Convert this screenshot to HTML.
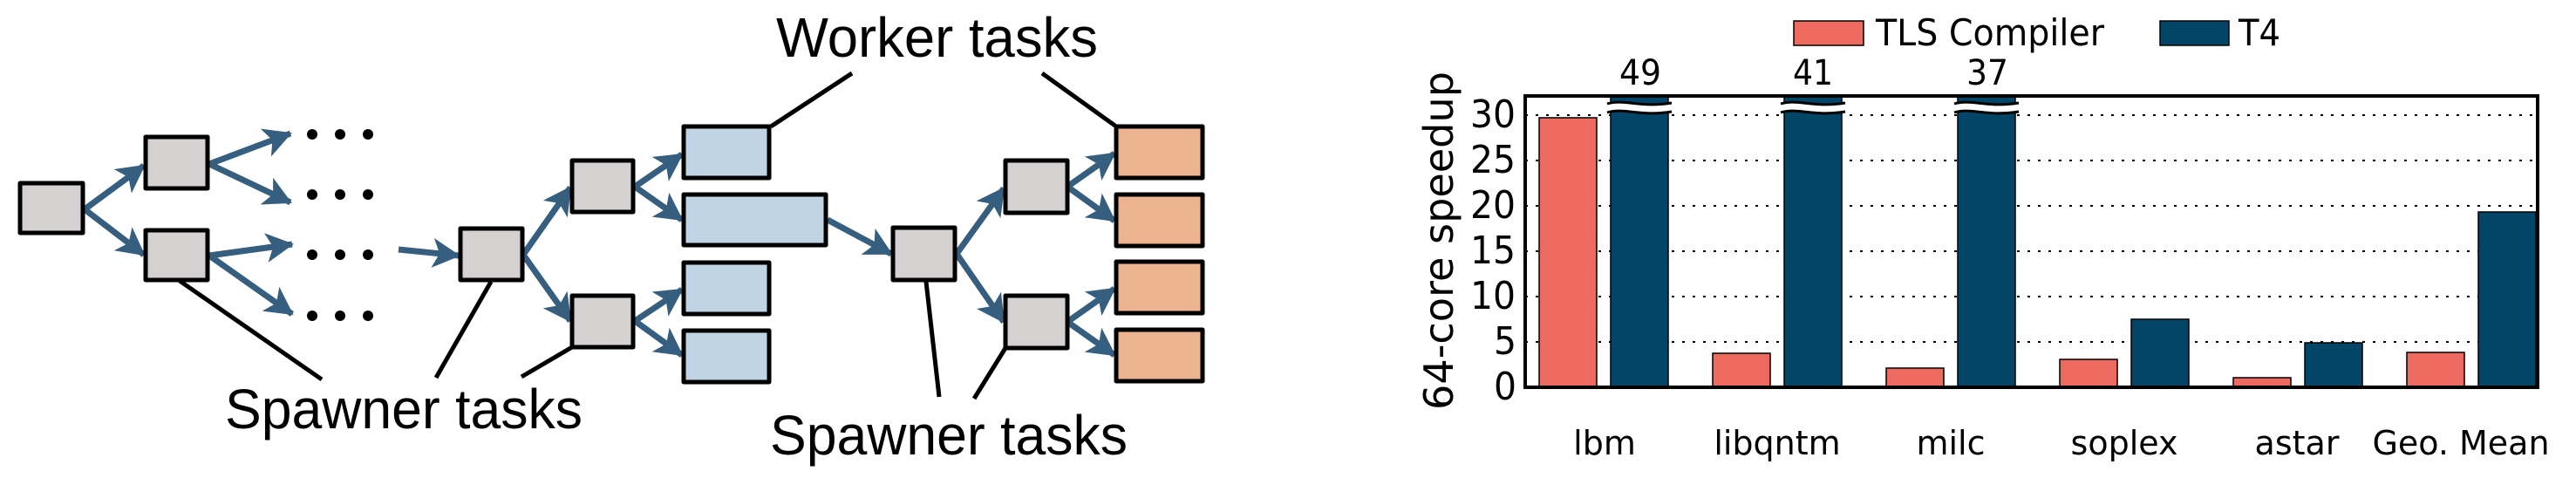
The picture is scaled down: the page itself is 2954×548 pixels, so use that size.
<!DOCTYPE html>
<html><head><meta charset="utf-8"><style>
html,body{margin:0;padding:0;background:#fff;width:2954px;height:548px;overflow:hidden}
svg{display:block}
</style></head><body>
<svg width="2954" height="548" viewBox="0 0 2954 548" xmlns="http://www.w3.org/2000/svg">
<defs>
<marker id="ah" markerUnits="userSpaceOnUse" markerWidth="34" markerHeight="36" refX="30" refY="17" orient="auto">
<path d="M0,0 L32,17 L0,34 L8,17 Z" fill="#365e7e"/>
</marker>
</defs>
<g stroke="#365e7e" stroke-width="7" fill="none" marker-end="url(#ah)">
<line x1="97" y1="240" x2="165" y2="190"/>
<line x1="97" y1="240" x2="165" y2="292"/>
<line x1="240" y1="188" x2="333" y2="153"/>
<line x1="240" y1="188" x2="333" y2="232"/>
<line x1="240" y1="293" x2="335" y2="280"/>
<line x1="240" y1="293" x2="335" y2="360"/>
<line x1="457" y1="286" x2="526" y2="293"/>
<line x1="600" y1="292" x2="654" y2="215"/>
<line x1="600" y1="292" x2="654" y2="368"/>
<line x1="728" y1="214" x2="782" y2="177"/>
<line x1="728" y1="214" x2="782" y2="252"/>
<line x1="728" y1="368" x2="782" y2="332"/>
<line x1="728" y1="368" x2="782" y2="407"/>
<line x1="949" y1="252" x2="1022" y2="291"/>
<line x1="1097" y1="291" x2="1151" y2="216"/>
<line x1="1097" y1="291" x2="1151" y2="369"/>
<line x1="1224" y1="214" x2="1278" y2="176"/>
<line x1="1224" y1="214" x2="1278" y2="253"/>
<line x1="1224" y1="369" x2="1278" y2="331"/>
<line x1="1224" y1="369" x2="1278" y2="407"/>
</g>
<g fill="#000">
<circle cx="358" cy="154" r="6"/><circle cx="390" cy="154" r="6"/><circle cx="422" cy="154" r="6"/>
<circle cx="358" cy="223" r="6"/><circle cx="390" cy="223" r="6"/><circle cx="422" cy="223" r="6"/>
<circle cx="358" cy="292" r="6"/><circle cx="390" cy="292" r="6"/><circle cx="422" cy="292" r="6"/>
<circle cx="358" cy="362" r="6"/><circle cx="390" cy="362" r="6"/><circle cx="422" cy="362" r="6"/>
</g>
<g stroke="#000" stroke-width="5" stroke-linejoin="round">
<g fill="#d5d1d1">
<rect x="23" y="210" width="72" height="57"/>
<rect x="167" y="157" width="71" height="59"/>
<rect x="167" y="264" width="71" height="57"/>
<rect x="528" y="262" width="71" height="59"/>
<rect x="656" y="184" width="70" height="59"/>
<rect x="656" y="339" width="70" height="59"/>
<rect x="1024" y="261" width="71" height="60"/>
<rect x="1153" y="184" width="71" height="60"/>
<rect x="1153" y="339" width="71" height="60"/>
</g>
<g fill="#c0d4e4">
<rect x="784" y="145" width="98" height="59"/>
<rect x="784" y="223" width="163" height="58"/>
<rect x="784" y="301" width="98" height="59"/>
<rect x="784" y="379" width="98" height="59"/>
</g>
<g fill="#ecb391">
<rect x="1280" y="145" width="99" height="59"/>
<rect x="1280" y="223" width="99" height="59"/>
<rect x="1280" y="300" width="99" height="59"/>
<rect x="1280" y="378" width="99" height="59"/>
</g>
</g>
<g stroke="#000" stroke-width="5">
<line x1="977" y1="84" x2="884" y2="145"/>
<line x1="1195" y1="84" x2="1280" y2="145"/>
<line x1="206" y1="322" x2="369" y2="435"/>
<line x1="563" y1="323" x2="500" y2="433"/>
<line x1="656" y1="398" x2="598" y2="432"/>
<line x1="1062" y1="323" x2="1077" y2="455"/>
<line x1="1153" y1="399" x2="1117" y2="457"/>
</g>
<g font-family="'Liberation Sans', sans-serif" fill="#000">
<text x="890" y="65" font-size="64" textLength="369" lengthAdjust="spacingAndGlyphs">Worker tasks</text>
<text x="258" y="491" font-size="64" textLength="410" lengthAdjust="spacingAndGlyphs">Spawner tasks</text>
<text x="883" y="521" font-size="64" textLength="410" lengthAdjust="spacingAndGlyphs">Spawner tasks</text>
</g>
<g stroke="#000" stroke-width="2" stroke-dasharray="3,9">
<line x1="1749" y1="132" x2="2910" y2="132"/>
<line x1="1749" y1="184" x2="2910" y2="184"/>
<line x1="1749" y1="236" x2="2910" y2="236"/>
<line x1="1749" y1="288" x2="2910" y2="288"/>
<line x1="1749" y1="340" x2="2910" y2="340"/>
<line x1="1749" y1="392" x2="2910" y2="392"/>
</g>
<g stroke="#000" stroke-width="1.5">
<g fill="#ec6a5f">
<rect x="1765" y="135" width="66" height="309"/>
<rect x="1964" y="405" width="66" height="39"/>
<rect x="2163" y="422" width="66" height="22"/>
<rect x="2362" y="412" width="66" height="32"/>
<rect x="2561" y="433" width="66" height="11"/>
<rect x="2760" y="404" width="66" height="40"/>
</g>
<g fill="#034566">
<rect x="1847" y="110" width="66" height="334"/>
<rect x="2046" y="110" width="66" height="334"/>
<rect x="2245" y="110" width="66" height="334"/>
<rect x="2444" y="366" width="66" height="78"/>
<rect x="2643" y="393" width="66" height="51"/>
<rect x="2842" y="243" width="66" height="201"/>
</g>
</g>
<g>
<g id="brk">
<path d="M1843,119 C1862,113 1880,124 1917,118 L1917,128 C1880,134 1862,123 1843,129 Z" fill="#fff"/>
<path d="M1843,119 C1862,113 1880,124 1917,118 M1843,129 C1862,123 1880,134 1917,128" stroke="#000" stroke-width="3" fill="none"/>
</g>
<use href="#brk" x="199"/>
<use href="#brk" x="398"/>
</g>
<rect x="1749" y="110" width="1161" height="334" fill="none" stroke="#000" stroke-width="4"/>
<g font-family="'DejaVu Sans', 'Liberation Sans', sans-serif" fill="#000" font-size="38">
<g font-size="44">
<text x="1686" y="146" textLength="52" lengthAdjust="spacingAndGlyphs">30</text>
<text x="1686" y="198" textLength="52" lengthAdjust="spacingAndGlyphs">25</text>
<text x="1686" y="250" textLength="52" lengthAdjust="spacingAndGlyphs">20</text>
<text x="1686" y="302" textLength="52" lengthAdjust="spacingAndGlyphs">15</text>
<text x="1686" y="354" textLength="52" lengthAdjust="spacingAndGlyphs">10</text>
<text x="1739" y="406" text-anchor="end" textLength="26" lengthAdjust="spacingAndGlyphs">5</text>
<text x="1739" y="458" text-anchor="end" textLength="26" lengthAdjust="spacingAndGlyphs">0</text>
</g>
<g font-size="40">
<text x="1857" y="97" textLength="48" lengthAdjust="spacingAndGlyphs">49</text>
<text x="2056" y="97" textLength="46" lengthAdjust="spacingAndGlyphs">41</text>
<text x="2255" y="97" textLength="48" lengthAdjust="spacingAndGlyphs">37</text>
</g>
<text x="1840" y="521" text-anchor="middle">lbm</text>
<text x="2038" y="521" text-anchor="middle">libqntm</text>
<text x="2237" y="521" text-anchor="middle">milc</text>
<text x="2436" y="521" text-anchor="middle">soplex</text>
<text x="2634" y="521" text-anchor="middle">astar</text>
<text x="2822" y="521" text-anchor="middle">Geo. Mean</text>
<text x="2151" y="52" font-size="42" textLength="262" lengthAdjust="spacingAndGlyphs">TLS Compiler</text>
<text x="2567" y="52" font-size="42" textLength="48" lengthAdjust="spacingAndGlyphs">T4</text>
<text transform="translate(1666,276) rotate(-90)" text-anchor="middle" font-size="46" textLength="388" lengthAdjust="spacingAndGlyphs">64-core speedup</text>
</g>
<rect x="2057" y="24" width="80" height="28" fill="#ec6a5f" stroke="#000" stroke-width="1.5"/>
<rect x="2477" y="24" width="79" height="28" fill="#034566" stroke="#000" stroke-width="1.5"/>
</svg>
</body></html>
